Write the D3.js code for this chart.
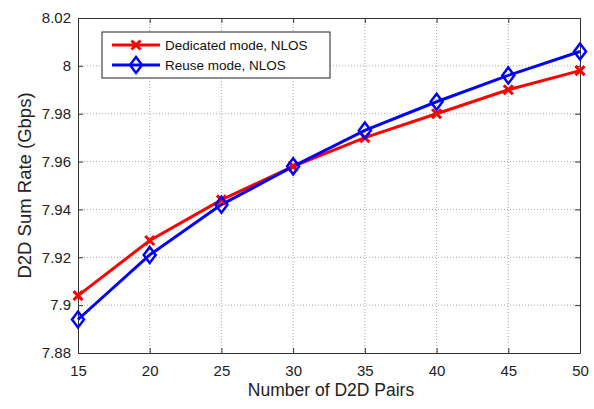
<!DOCTYPE html>
<html><head><meta charset="utf-8">
<script src="https://cdn.jsdelivr.net/npm/d3@7"></script>
<style>body{margin:0;background:#fff}svg{display:block}text{font-family:"Liberation Sans",Arial,sans-serif}</style>
</head><body><svg id="c" width="594" height="409"></svg>
<script>
const pairs = [15, 20, 25, 30, 35, 40, 45, 50];
const dedicated = [7.904, 7.927, 7.944, 7.958, 7.970, 7.980, 7.990, 7.998];
const reuse = [7.894, 7.921, 7.942, 7.958, 7.973, 7.985, 7.996, 8.006];
const xTicks = [15, 20, 25, 30, 35, 40, 45, 50];
const yTicks = [7.88, 7.9, 7.92, 7.94, 7.96, 7.98, 8, 8.02];
const seriesNames = ["Dedicated mode, NLOS", "Reuse mode, NLOS"];

const L = 78, R = 580, T = 18, B = 353;
const svg = d3.select("#c");
const x = d3.scaleLinear().domain([15, 50]).range([L, R]);
const y = d3.scaleLinear().domain([7.88, 8.02]).range([B, T]);

// grid
const g = svg.append("g");
g.selectAll(".gx").data(xTicks.slice(1, -1)).enter().append("line")
  .attr("x1", d => x(d)).attr("x2", d => x(d)).attr("y1", T).attr("y2", B)
  .attr("stroke", "#aaa").attr("stroke-width", 1).attr("stroke-dasharray", "1,2");
g.selectAll(".gy").data(yTicks.slice(1, -1)).enter().append("line")
  .attr("y1", d => y(d)).attr("y2", d => y(d)).attr("x1", L).attr("x2", R)
  .attr("stroke", "#aaa").attr("stroke-width", 1).attr("stroke-dasharray", "1,2");

// axes
const fmt = d => d3.format("")(+d.toFixed(2));
const ax = svg.append("g").attr("transform", `translate(0,${B})`)
  .call(d3.axisBottom(x).tickValues(xTicks).tickSizeInner(-5).tickSizeOuter(0).tickPadding(12));
const ay = svg.append("g").attr("transform", `translate(${L},0)`)
  .call(d3.axisLeft(y).tickValues(yTicks).tickFormat(fmt).tickSizeInner(-5).tickSizeOuter(0).tickPadding(7));
const axT = svg.append("g").attr("transform", `translate(0,${T})`)
  .call(d3.axisTop(x).tickValues(xTicks).tickSizeInner(-5).tickSizeOuter(0).tickFormat(""));
const ayR = svg.append("g").attr("transform", `translate(${R},0)`)
  .call(d3.axisRight(y).tickValues(yTicks).tickSizeInner(-5).tickSizeOuter(0).tickFormat(""));
[ax, ay, axT, ayR].forEach(a => {
  a.selectAll("path").attr("stroke", "#333").attr("stroke-width", 1);
  a.selectAll("line").attr("stroke", "#333");
  a.selectAll("text").attr("font-size", 15).attr("fill", "#222")
    .attr("font-family", "'Liberation Sans', Arial, sans-serif");
});

// lines
const line = d3.line().x((d, i) => x(pairs[i])).y(d => y(d));
svg.append("path").datum(dedicated).attr("d", line).attr("fill", "none")
  .attr("stroke", "#ff0000").attr("stroke-width", 3);
svg.append("path").datum(reuse).attr("d", line).attr("fill", "none")
  .attr("stroke", "#0000ff").attr("stroke-width", 3);

function cross(sel, cx, cy) {
  const s = 4.5;
  sel.append("path").attr("d", `M${cx - s},${cy - s}L${cx + s},${cy + s}M${cx - s},${cy + s}L${cx + s},${cy - s}`)
    .attr("stroke", "#ff0000").attr("stroke-width", 3).attr("fill", "none");
}
function diamond(sel, cx, cy) {
  const w = 6, h = 8;
  sel.append("path").attr("d", `M${cx},${cy - h}L${cx + w},${cy}L${cx},${cy + h}L${cx - w},${cy}Z`)
    .attr("stroke", "#0000ff").attr("stroke-width", 2.5).attr("fill", "none");
}
const mk = svg.append("g");
dedicated.forEach((v, i) => cross(mk, x(pairs[i]), y(v)));
reuse.forEach((v, i) => diamond(mk, x(pairs[i]), y(v)));

// legend
const lg = svg.append("g");
lg.append("rect").attr("x", 102).attr("y", 32).attr("width", 228).attr("height", 46)
  .attr("fill", "#fff").attr("stroke", "#222").attr("stroke-width", 1);
const rows = [45, 65];
rows.forEach((ry, i) => {
  lg.append("line").attr("x1", 112).attr("x2", 160).attr("y1", ry).attr("y2", ry)
    .attr("stroke", i === 0 ? "#ff0000" : "#0000ff").attr("stroke-width", 3);
  if (i === 0) cross(lg, 136, ry); else diamond(lg, 136, ry);
  lg.append("text").attr("x", 165).attr("y", ry + 5).attr("font-size", 13.5).attr("fill", "#111")
    .text(seriesNames[i]);
});

// axis labels
svg.append("text").attr("x", (L + R) / 2 + 2).attr("y", 396).attr("text-anchor", "middle")
  .attr("font-size", 17.5).attr("fill", "#222").text("Number of D2D Pairs");
svg.append("text").attr("transform", `translate(31,${(T + B) / 2}) rotate(-90)`)
  .attr("text-anchor", "middle").attr("font-size", 18.5).attr("fill", "#222").text("D2D Sum Rate (Gbps)");
</script></body></html>
